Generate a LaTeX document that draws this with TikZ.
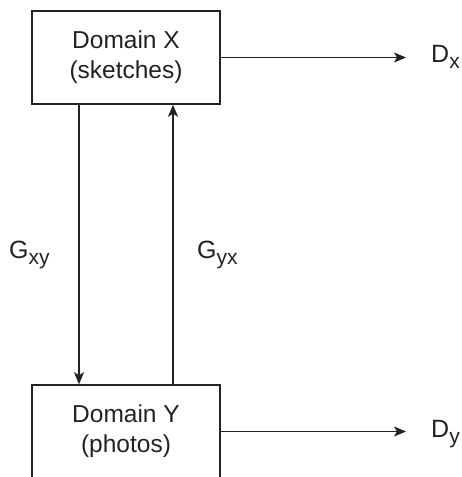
\documentclass[tikz,border=0pt]{standalone}
\usepackage{fontspec}
\setmainfont{Liberation Sans}
\usetikzlibrary{arrows.meta}
\definecolor{ln}{HTML}{222222}
\newcommand{\subt}[1]{\raisebox{-6pt}{\fontsize{21}{21}\selectfont #1}}
\begin{document}
\begin{tikzpicture}[x=1pt,y=-1pt,
  box/.style={draw=ln,line width=1.5pt,minimum width=188pt,minimum height=93pt,inner sep=0pt,
    align=center,font=\fontsize{24.5}{30}\selectfont,text=ln},
  lbl/.style={font=\fontsize{25}{30}\selectfont,text=ln,inner sep=0pt},
  arr/.style={draw=ln,line width=1.5pt,-{Stealth[length=12pt,width=10pt,inset=3pt]}}]
\useasboundingbox (0,0) rectangle (462,477);
\clip (0,0) rectangle (462,477);
\node[box] (X) at (126,57.5) {Domain X\\(sketches)};
\node[box] (Y) at (126,431.5) {Domain Y\\(photos)};
\node[lbl,anchor=base west] (DX) at (431,62) {D\subt{x}};
\node[lbl,anchor=base west] (DY) at (431,437) {D\subt{y}};
\node[lbl,anchor=base west] (GXY) at (9,258) {G\subt{xy}};
\node[lbl,anchor=base west] (GYX) at (197,258) {G\subt{yx}};
\coordinate (EX) at (406,57.5);
\coordinate (EY) at (406,431.5);
\draw[arr] (X.east) -- (EX);
\draw[arr] (Y.east) -- (EY);
\draw[arr] (X.south-|79,0) -- (Y.north-|79,0);
\draw[arr] (Y.north-|173,0) -- (X.south-|173,0);
\end{tikzpicture}
\end{document}
